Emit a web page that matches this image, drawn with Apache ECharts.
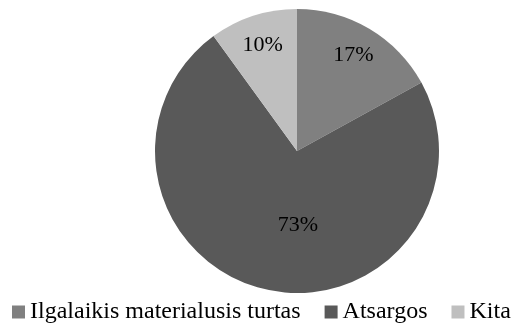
<!DOCTYPE html>
<html><head><meta charset="utf-8">
<script src="https://cdn.jsdelivr.net/npm/echarts@6/dist/echarts.min.js"></script>
<style>html,body{margin:0;padding:0;background:#fff}#c{width:511px;height:324px}</style>
</head><body><div id="c"></div>
<script>
const categories = ['Ilgalaikis materialusis turtas', 'Atsargos', 'Kita'];
const values = [17, 73, 10];
const colors = ['#808080', '#595959', '#bfbfbf'];
const FONT = '"Liberation Serif", "Times New Roman", serif';

const chart = echarts.init(document.getElementById('c'), null, {renderer: 'canvas'});
const mainData = categories.map((n, i) => ({
  name: n, value: values[i], itemStyle: {color: colors[i]},
  label: i === 1 ? {show: true, position: 'inside', offset: [17, 2]} : {show: false}
}));
const ringData = categories.map((n, i) => ({
  name: n, value: values[i],
  label: {show: i !== 1}
}));
chart.setOption({
  animation: false,
  textStyle: {fontFamily: FONT},
  legend: {
    data: categories, top: 300, left: 12, padding: 0, itemWidth: 13, itemHeight: 13, itemGap: 24,
    icon: 'rect', textStyle: {fontFamily: FONT, fontSize: 24, color: '#000', padding: 0}
  },
  series: [
    {
      type: 'pie', center: [297, 151], radius: [0, 142], startAngle: 90, clockwise: true,
      silent: true, data: mainData,
      label: {fontFamily: FONT, fontSize: 22, color: '#000', formatter: '{d}%'},
      labelLine: {show: false}
    },
    {
      type: 'pie', center: [297, 151], radius: [74, 142], startAngle: 90, clockwise: true,
      silent: true, data: ringData,
      itemStyle: {color: 'rgba(0,0,0,0)'},
      label: {position: 'inside', fontFamily: FONT, fontSize: 22, color: '#000', formatter: '{d}%'},
      labelLine: {show: false}
    }
  ]
});
</script></body></html>
